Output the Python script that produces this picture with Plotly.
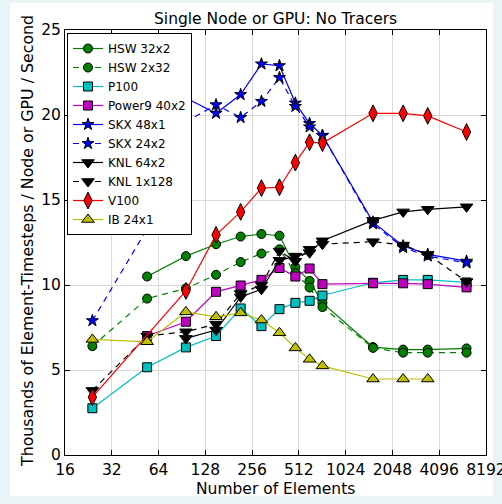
import math
import plotly.graph_objects as go

x_all = [24, 54, 96, 150, 216, 294, 384, 486, 600, 726, 1536, 2400, 3456, 6144]
tick_vals = [16, 32, 64, 128, 256, 512, 1024, 2048, 4096, 8192]
tick_text = ["16", "32", "64", "128", "256", "512", "1024", "2048", "4096", "8192"]

hsw_32x2_x = [54, 96, 150, 216, 294, 384, 486, 600, 726, 1536, 2400, 3456, 6144]
hsw_32x2_y = [10.5, 11.7, 12.4, 12.85, 13.0, 12.9, 11.05, 10.24, 8.95, 6.35, 6.2, 6.2, 6.27]

hsw_2x32_x = x_all
hsw_2x32_y = [6.4, 9.2, 9.8, 10.6, 11.35, 11.85, 12.1, 10.7, 9.85, 8.7, 6.3, 6.02, 6.02, 6.02]

p100_x = x_all
p100_y = [2.75, 5.16, 6.33, 7.0, 8.62, 7.58, 8.58, 8.95, 9.07, 9.38, 10.13, 10.3, 10.3, 10.15]

power9_x = [54, 96, 150, 216, 294, 384, 486, 600, 726, 1536, 2400, 3456, 6144]
power9_y = [7.0, 7.84, 9.6, 9.97, 10.3, 11.0, 10.5, 10.97, 10.05, 10.1, 10.1, 10.05, 9.86]

skx_48x1_x = [96, 150, 216, 294, 384, 486, 600, 726, 1536, 2400, 3456, 6144]
skx_48x1_y = [21.0, 20.1, 21.2, 23.0, 22.9, 20.7, 19.5, 18.8, 13.7, 12.3, 11.8, 11.4]

skx_24x2_x = x_all
skx_24x2_y = [7.9, 13.3, 19.6, 20.6, 19.85, 20.8, 22.2, 20.5, 19.3, 18.8, 13.6, 12.2, 11.7, 11.3]

knl_64x2_x = [96, 150, 216, 294, 384, 486, 600, 726, 1536, 2400, 3456, 6144]
knl_64x2_y = [6.86, 7.35, 9.3, 9.75, 11.45, 11.7, 11.9, 12.6, 13.8, 14.3, 14.45, 14.6]

knl_1x128_x = x_all
knl_1x128_y = [3.8, 7.0, 7.25, 7.7, 9.5, 10.0, 12.0, 11.4, 12.1, 12.4, 12.55, 12.35, 11.8, 10.2]

v100_x = [24, 96, 150, 216, 294, 384, 486, 600, 726, 1536, 2400, 3456, 6144]
v100_y = [3.4, 9.65, 12.95, 14.3, 15.7, 15.75, 17.2, 18.4, 18.35, 20.1, 20.1, 19.95, 19.0]

ib_24x1_x = [24, 54, 96, 150, 216, 294, 384, 486, 600, 726, 1536, 2400, 3456]
ib_24x1_y = [6.8, 6.66, 8.42, 8.13, 8.36, 7.94, 7.19, 6.3, 5.63, 5.24, 4.47, 4.47, 4.47]

series = [
    ("HSW 32x2", hsw_32x2_x, hsw_32x2_y, "#008000", "circle", "solid", 9),
    ("HSW 2x32", hsw_2x32_x, hsw_2x32_y, "#008000", "circle", "6px,5px", 9),
    ("P100", p100_x, p100_y, "#00bfbf", "square", "solid", 9),
    ("Power9 40x2", power9_x, power9_y, "#bf00bf", "square", "solid", 9),
    ("SKX 48x1", skx_48x1_x, skx_48x1_y, "#0000ff", "star", "solid", 9),
    ("SKX 24x2", skx_24x2_x, skx_24x2_y, "#0000ff", "star", "6px,5px", 9),
    ("KNL 64x2", knl_64x2_x, knl_64x2_y, "#000000", "triangle-down", "solid", 11),
    ("KNL 1x128", knl_1x128_x, knl_1x128_y, "#000000", "triangle-down", "6px,5px", 11),
    ("V100", v100_x, v100_y, "#ff0000", "diamond-tall", "solid", 12),
    ("IB 24x1", ib_24x1_x, ib_24x1_y, "#bfbf00", "triangle-up", "solid", 11),
]

fig = go.Figure()
for name, xs, ys, col, sym, dash, sz in series:
    fig.add_trace(go.Scatter(
        x=xs, y=ys, name=name, mode="lines+markers",
        line=dict(color=col, width=1.2, dash=dash),
        marker=dict(symbol=sym, size=sz, color=col, line=dict(color="black", width=1)),
    ))

font = "DejaVu Sans, sans-serif"
L, R, T, B = 65, 16, 30, 49
W, H = 502, 504
pw, ph = W - L - R, H - T - B

def px_to_paper_x(px):
    return (px - L) / pw

def py_to_paper_y(py):
    return (H - B - py) / ph

fig.update_layout(
    width=W, height=H,
    margin=dict(l=L, r=R, t=T, b=B, autoexpand=False),
    paper_bgcolor="#e8f4f5",
    plot_bgcolor="white",
    font=dict(family=font, size=15.5, color="black"),
    showlegend=True,
    legend=dict(x=px_to_paper_x(67), y=py_to_paper_y(33), xanchor="left", yanchor="top",
                bgcolor="white", bordercolor="black", borderwidth=1,
                font=dict(size=12), tracegroupgap=0, itemwidth=30),
    shapes=[dict(type="rect", xref="paper", yref="paper",
                 x0=px_to_paper_x(10), x1=px_to_paper_x(493),
                 y0=py_to_paper_y(496), y1=py_to_paper_y(3),
                 fillcolor="white", line=dict(width=0), layer="below")],
    annotations=[
        dict(text="Single Node or GPU: No Tracers", xref="paper", yref="paper",
             x=0.5, y=py_to_paper_y(19), xanchor="center", yanchor="middle",
             showarrow=False, font=dict(size=15.5)),
        dict(text="Number of Elements", xref="paper", yref="paper",
             x=0.5, y=py_to_paper_y(489), xanchor="center", yanchor="middle",
             showarrow=False, font=dict(size=15.5)),
        dict(text="Thousands of Element-Timesteps / Node or GPU / Second",
             xref="paper", yref="paper", textangle=-90,
             x=px_to_paper_x(27), y=py_to_paper_y(241), xanchor="center", yanchor="middle",
             showarrow=False, font=dict(size=15.8)),
    ],
)
fig.update_xaxes(
    type="log", range=[math.log10(16) - 0.0002, math.log10(8192) + 0.0002],
    tickvals=tick_vals, ticktext=tick_text, automargin=False,
    ticklabeloverflow="allow",
    ticks="inside", ticklen=5, tickcolor="black",
    showline=True, linecolor="black", linewidth=1, mirror="ticks",
    showgrid=True, gridcolor="#d9d9d9", gridwidth=1, zeroline=False,
    tickfont=dict(size=15.5),
)
fig.update_yaxes(
    range=[0, 25], dtick=5, tick0=0, automargin=False,
    ticklabeloverflow="allow",
    ticks="inside", ticklen=5, tickcolor="black",
    showline=True, linecolor="black", linewidth=1, mirror="ticks",
    showgrid=True, gridcolor="#d9d9d9", gridwidth=1, zeroline=False,
    tickfont=dict(size=15.5),
)
fig.write_html(
    "out.html",
    config={"displayModeBar": False},
    post_script="document.body.style.margin='0';document.body.style.padding='0';"
                "document.body.style.overflow='hidden';",
)
